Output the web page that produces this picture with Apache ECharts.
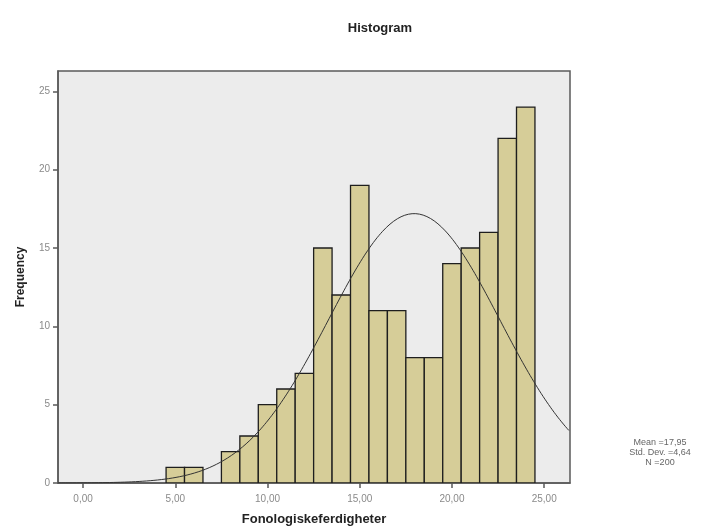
<!DOCTYPE html>
<html>
<head>
<meta charset="utf-8">
<script src="https://cdn.jsdelivr.net/npm/echarts@6/dist/echarts.min.js"></script>
<style>
  html, body { margin: 0; padding: 0; background: #fff; }
  #chart { width: 714px; height: 529px; }
</style>
</head>
<body>
<div id="chart"></div>
<script>
// Histogram bins (unit width, centred on integers) and their counts
const binCenters = [5, 6, 7, 8, 9, 10, 11, 12, 13, 14, 15, 16, 17, 18, 19, 20, 21, 22, 23, 24];
const frequencies = [1, 1, 0, 2, 3, 5, 6, 7, 15, 12, 19, 11, 11, 8, 8, 14, 15, 16, 22, 24];
const binWidth = 1;

// Summary statistics shown beside the plot
const meanValue = 17.95;
const stdDev = 4.64;
const sampleSize = 200;

// Axis ticks
const xTicks = [0, 5, 10, 15, 20, 25];
const yTicks = [0, 5, 10, 15, 20, 25];
const xRange = [-1.36, 26.4];
const yRange = [0, 26.3];

const bars = binCenters.map((c, i) => [c - binWidth / 2, c + binWidth / 2, frequencies[i]]).filter(b => b[2] > 0);

// Fitted normal curve scaled to counts per bin
const curve = [];
for (let x = xRange[0]; x <= xRange[1] + 1e-9; x += 0.1) {
  const z = (x - meanValue) / stdDev;
  curve.push([x, sampleSize * binWidth / (stdDev * Math.sqrt(2 * Math.PI)) * Math.exp(-0.5 * z * z)]);
}

const fmt = v => v.toFixed(2).replace('.', ',');
const font = 'Liberation Sans, Arial, sans-serif';

const chart = echarts.init(document.getElementById('chart'));
chart.setOption({
  animation: false,
  title: {
    text: 'Histogram',
    left: 375, top: 17, textAlign: 'center',
    textStyle: { fontFamily: font, fontSize: 13, fontWeight: 'bold', color: '#222' }
  },
  grid: {
    left: 58, top: 71, right: 144, bottom: 46,
    containLabel: false, outerBoundsMode: 'none',
    show: true, backgroundColor: '#ececec', borderColor: '#5a5a5a', borderWidth: 1.5
  },
  xAxis: {
    type: 'value', min: xRange[0], max: xRange[1],
    name: 'Fonologiskeferdigheter', nameLocation: 'middle', nameGap: 30,
    nameTextStyle: { fontFamily: font, fontSize: 13, fontWeight: 'bold', color: '#222' },
    splitLine: { show: false },
    axisLine: { show: true, onZero: false, lineStyle: { color: '#5a5a5a', width: 1.5 } },
    axisTick: { show: true, customValues: xTicks, length: 5, lineStyle: { color: '#5a5a5a', width: 1.5 } },
    axisLabel: { customValues: xTicks, formatter: fmt, margin: 11, fontFamily: font, fontSize: 10, color: '#8a8a8a' }
  },
  yAxis: {
    type: 'value', min: yRange[0], max: yRange[1],
    name: 'Frequency', nameLocation: 'middle', nameGap: 31, nameRotate: 90,
    nameTextStyle: { fontFamily: font, fontSize: 12, fontWeight: 'bold', color: '#222' },
    splitLine: { show: false },
    axisLine: { show: true, onZero: false, lineStyle: { color: '#5a5a5a', width: 1.5 } },
    axisTick: { show: true, customValues: yTicks, length: 5, lineStyle: { color: '#5a5a5a', width: 1.5 } },
    axisLabel: { customValues: yTicks, margin: 8, fontFamily: font, fontSize: 10, color: '#8a8a8a' }
  },
  series: [
    {
      type: 'custom',
      data: bars,
      clip: true,
      renderItem: function (params, api) {
        const p0 = api.coord([api.value(0), api.value(2)]);
        const p1 = api.coord([api.value(1), 0]);
        return {
          type: 'rect',
          shape: { x: p0[0], y: p0[1], width: p1[0] - p0[0], height: p1[1] - p0[1] },
          style: { fill: '#d6cd98', stroke: '#1e1e1e', lineWidth: 1.3 }
        };
      }
    },
    {
      type: 'line',
      data: curve,
      showSymbol: false,
      clip: true,
      lineStyle: { color: '#333', width: 1 },
      z: 5
    }
  ],
  graphic: [
    {
      type: 'text', x: 660, y: 438,
      style: {
        text: 'Mean =' + meanValue.toFixed(2).replace('.', ',') + '\nStd. Dev. =' + stdDev.toFixed(2).replace('.', ',') + '\nN =' + sampleSize,
        align: 'center', fontFamily: font, fontSize: 9, lineHeight: 10, fill: '#666'
      }
    }
  ]
});
</script>
</body>
</html>
